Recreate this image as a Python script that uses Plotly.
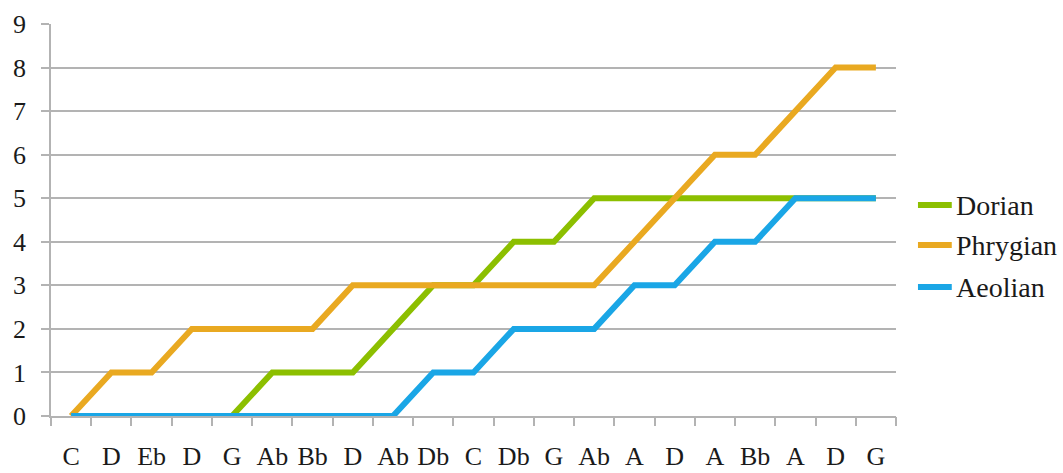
import plotly.graph_objects as go

categories = ["C", "D", "Eb", "D", "G", "Ab", "Bb", "D", "Ab", "Db", "C",
              "Db", "G", "Ab", "A", "D", "A", "Bb", "A", "D", "G"]
dorian =   [0, 0, 0, 0, 0, 1, 1, 1, 2, 3, 3, 4, 4, 5, 5, 5, 5, 5, 5, 5, 5]
phrygian = [0, 1, 1, 2, 2, 2, 2, 3, 3, 3, 3, 3, 3, 3, 4, 5, 6, 6, 7, 8, 8]
aeolian =  [0, 0, 0, 0, 0, 0, 0, 0, 0, 1, 1, 2, 2, 2, 3, 3, 4, 4, 5, 5, 5]
series_names = ["Dorian", "Phrygian", "Aeolian"]
series_colors = ["#8cbf00", "#e9a921", "#1aa6e6"]
y_ticks = list(range(0, 10))

x_idx = list(range(len(categories)))

fig = go.Figure()
for name, vals, col in zip(series_names, [dorian, phrygian, aeolian], series_colors):
    fig.add_trace(go.Scatter(x=x_idx, y=vals, name=name, mode="lines",
                             showlegend=False, line=dict(color=col, width=6)))

font = dict(family="'Liberation Serif', 'Times New Roman', Times, 'DejaVu Serif', serif",
            size=26, color="#1a1a1a")
legend_font = dict(font, size=28)

# legend drawn as key lines + text labels (paper coordinates, right of the plot)
legend_y = [0.538, 0.436, 0.329]
for name, col, ly in zip(series_names, series_colors, legend_y):
    fig.add_shape(type="line", xref="paper", yref="paper",
                  x0=1.026, x1=1.066, y0=ly, y1=ly,
                  line=dict(color=col, width=6))
    fig.add_annotation(xref="paper", yref="paper", x=1.069, y=ly,
                       xanchor="left", yanchor="middle", showarrow=False,
                       text=name, font=legend_font)

fig.update_layout(
    width=1063, height=473,
    margin=dict(l=51, r=167, t=24, b=57),
    paper_bgcolor="white", plot_bgcolor="white",
    font=font,
    showlegend=False,
    xaxis=dict(range=[-0.5, len(categories) - 0.5], automargin=False,
               tickmode="array", tickvals=x_idx, ticktext=categories,
               showgrid=False, zeroline=False,
               showline=True, linecolor="#b3b3b3", linewidth=1.5,
               ticks="", ticklabelstandoff=16, tickfont=font),
    yaxis=dict(range=[0, 9], tickmode="array", tickvals=y_ticks, automargin=False,
               showgrid=True, gridcolor="#b3b3b3", gridwidth=1.5,
               zeroline=False, showline=True, linecolor="#b3b3b3", linewidth=1.5,
               ticks="outside", ticklen=8, tickcolor="#b3b3b3", tickwidth=1.5,
               ticklabelstandoff=10, tickfont=font),
)
fig.update_layout(
    xaxis2=dict(overlaying="x", range=[-0.5, len(categories) - 0.5], automargin=False,
                tickmode="array", tickvals=[i - 0.5 for i in range(len(categories) + 1)],
                ticktext=["" for _ in range(len(categories) + 1)],
                ticks="outside", ticklen=9, tickcolor="#b3b3b3", tickwidth=1.5,
                showgrid=False, zeroline=False, showline=False, side="bottom",
                anchor="y", showticklabels=False)
)
fig.add_trace(go.Scatter(x=[None], y=[None], xaxis="x2", showlegend=False, hoverinfo="skip"))
fig.write_html("out.html", config={"displayModeBar": False},
               post_script="document.body.style.margin='0';document.body.style.padding='0';")
